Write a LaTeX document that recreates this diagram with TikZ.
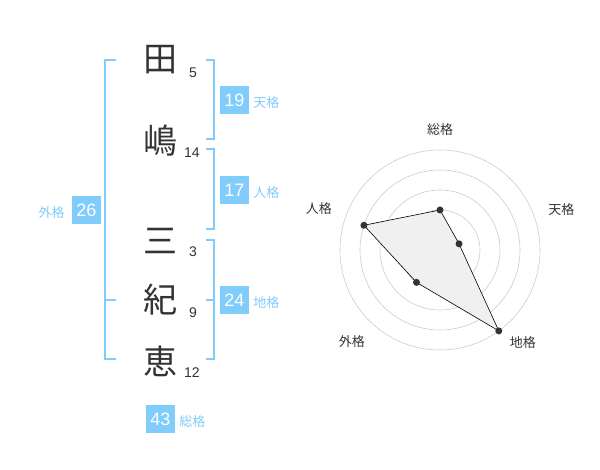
\documentclass[tikz,border=0pt]{standalone}
\usepackage{fontspec}
\setmainfont{Liberation Sans}
\newfontfamily\jpfont{Noto Sans CJK JP}
\usetikzlibrary{positioning}
\definecolor{myblue}{RGB}{128,204,250}
\definecolor{mygray}{RGB}{51,51,51}

\begin{document}
\begin{tikzpicture}[x=1pt,y=-1pt,
  kanji/.style={text=mygray,inner sep=0pt,font=\jpfont\fontsize{34}{34}\selectfont},
  strokes/.style={text=mygray,inner sep=0pt,font=\fontsize{14}{14}\selectfont},
  kbox/.style={fill=myblue,text=white,inner sep=0pt,minimum width=29pt,minimum height=28pt,
    font=\fontsize{18}{18}\selectfont},
  klabel/.style={text=myblue,inner sep=0pt,font=\jpfont\fontsize{13}{13}\selectfont},
  bracket/.style={draw=myblue,line width=2pt},
  ring/.style={draw=black!20,line width=0.6pt},
  rlabel/.style={text=mygray,inner sep=0pt,font=\jpfont\fontsize{13}{13}\selectfont},
  dot/.style={circle,fill=mygray,inner sep=0pt,minimum size=7pt}]

 \useasboundingbox (0,0) rectangle (600,470);

 % name characters and stroke counts
 \node[kanji] (c1) at (160,60) {田};
 \node[kanji] (c2) at (160,141) {嶋};
 \node[kanji] (c3) at (160,241) {三};
 \node[kanji] (c4) at (160,300) {紀};
 \node[kanji] (c5) at (160,361) {恵};

 \node[strokes] (n1) at (193,73) {5};
 \node[strokes] (n2) at (192,153) {14};
 \node[strokes] (n3) at (193,252) {3};
 \node[strokes] (n4) at (193,313) {9};
 \node[strokes] (n5) at (192,373) {12};

 % draw brackets
 \draw[bracket] (206,60) -- (214,60) -- (214,139) -- (206,139);
 \draw[bracket] (206,149) -- (214,149) -- (214,229) -- (206,229);
 \draw[bracket] (206,240) -- (214,240) -- (214,359) -- (206,359)
 (206,300) -- (214,300);
 \draw[bracket] (116,60) -- (105,60) -- (105,359) -- (116,359)
 (105,300) -- (116,300);

 % boxes with totals
 \node[kbox] (b19) at (234.5,100) {19};
 \node[klabel,right=4pt of b19,yshift=-3pt] (l19) {天格};
 \node[kbox] (b17) at (234.5,190) {17};
 \node[klabel,right=4pt of b17,yshift=-3pt] (l17) {人格};
 \node[kbox] (b24) at (234.5,300) {24};
 \node[klabel,right=4pt of b24,yshift=-3pt] (l24) {地格};
 \node[kbox] (b26) at (86.5,210) {26};
 \node[klabel,left=7pt of b26,yshift=-3pt] (l26) {外格};
 \node[kbox] (b43) at (160.5,419) {43};
 \node[klabel,right=4pt of b43,yshift=-3pt] (l43) {総格};

 % draw radar chart
 \begin{scope}[shift={(440,250)},yscale=-1]
  \foreach \r in {20,40,...,100}
   \draw[ring] (0,0) circle (\r);
  \node[circle,fill=black!20,inner sep=0pt,minimum size=7pt] (ctr) at (0,0) {};

  \coordinate (p1) at (90:40);
  \coordinate (p2) at (18:20);
  \coordinate (p3) at (-54:100);
  \coordinate (p4) at (234:40);
  \coordinate (p5) at (162:80);
  \draw[fill=black!6,line width=0.6pt] (p1) -- (p2) -- (p3) -- (p4) -- (p5) -- cycle;
  \foreach \i in {1,...,5}
   \node[dot] (d\i) at (p\i) {};

  \node[rlabel] (r1) at (90:120) {総格};
  \node[rlabel] (r2) at (18.6:128) {天格};
  \node[rlabel] (r3) at (161.3:128) {人格};
  \node[rlabel] (r4) at (226:127) {外格};
  \node[rlabel] (r5) at (312:124) {地格};
 \end{scope}

\end{tikzpicture}
\end{document}
